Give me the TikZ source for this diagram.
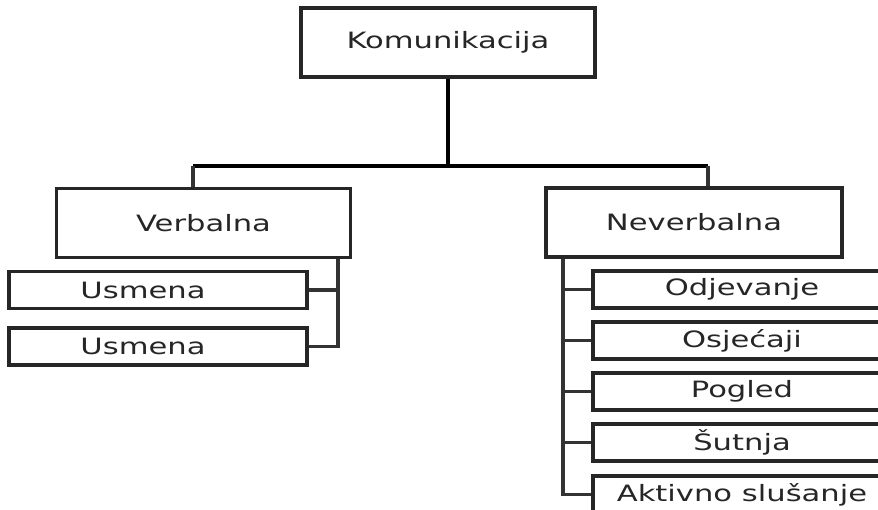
\documentclass[tikz,border=0pt]{standalone}
\usepackage{fontspec}
\setmainfont{DejaVu Sans}[FakeStretch=1.36]
\begin{document}
\begin{tikzpicture}[x=1pt,y=-1pt,
  box/.style={draw=black!85, line width=3.4pt, fill=white, inner sep=0pt,
    font=\fontsize{22.5}{26}\selectfont, text=black!85},
  big/.style={box, minimum width=294pt, minimum height=69pt},
  small/.style={box, minimum width=298pt, minimum height=37pt},
  conn/.style={draw=black!80, line width=3.2pt}]
\useasboundingbox (0,0) rectangle (878,510);
\clip (0,0) rectangle (878,510);
\fill[white] (0,0) rectangle (878,510);
% main boxes
\node[big] (kom) at (448,42.5) {Komunikacija};
\node[big] (verb) at (203.5,223) {Verbalna};
\node[big, minimum width=296pt] (nev) at (694,222.5) {Neverbalna};
% verbal children
\node[small] (us1) at (158,290) {Usmena\hspace*{30pt}};
\node[small] (us2) at (158,346.5) {Usmena\hspace*{30pt}};
% nonverbal children
\node[small] (odj) at (742,289.5) {Odjevanje};
\node[small] (osj) at (742,340.5) {Osjećaji};
\node[small] (pog) at (742,391.5) {Pogled};
\node[small] (sut) at (742,442.5) {Šutnja};
\node[small] (akt) at (742,494.5) {Aktivno slušanje};
% connectors
\coordinate (hl) at (193,166);
\coordinate (hr) at (708,166);
\draw[conn, draw=black] (kom.south) -- (kom.south |- hl);
\draw[conn, draw=black] (hl) -- (hr);
\draw[conn] (hl) -- (hl |- verb.north);
\draw[conn] (hr) -- (hr |- nev.north);
\coordinate (vx) at (338,258);
\draw[conn] (vx |- verb.south) -- (vx |- us2.east) -- (us2.east);
\draw[conn] (vx |- us1.east) -- (us1.east);
\coordinate (nx) at (563,257);
\draw[conn] (nx |- nev.south) -- (nx |- akt.west) -- (akt.west);
\draw[conn] (nx |- odj.west) -- (odj.west);
\draw[conn] (nx |- osj.west) -- (osj.west);
\draw[conn] (nx |- pog.west) -- (pog.west);
\draw[conn] (nx |- sut.west) -- (sut.west);
\end{tikzpicture}
\end{document}
